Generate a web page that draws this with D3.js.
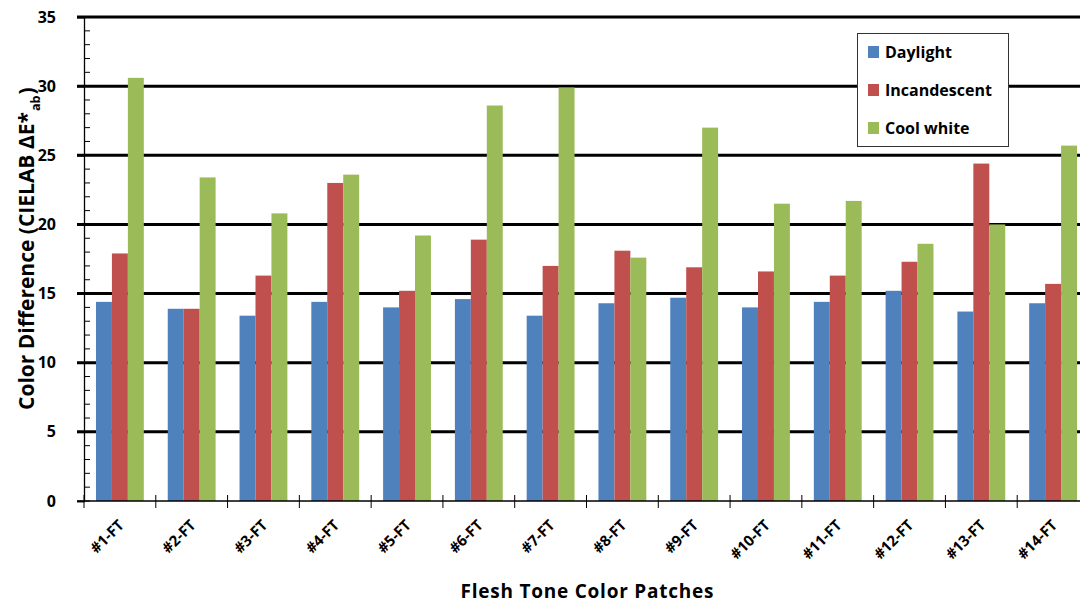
<!DOCTYPE html>
<html>
<head>
<meta charset="utf-8">
<script src="https://cdn.jsdelivr.net/npm/d3@7"></script>
<style>
  html, body { margin: 0; padding: 0; background: #fff; }
  svg { display: block; }
  text { font-family: "Open Sans", Lato, sans-serif; font-weight: bold; fill: #000; }
</style>
</head>
<body>
<svg id="chart" width="1080" height="605"></svg>
<script>
const categories = ["#1-FT","#2-FT","#3-FT","#4-FT","#5-FT","#6-FT","#7-FT","#8-FT","#9-FT","#10-FT","#11-FT","#12-FT","#13-FT","#14-FT"];
const seriesNames = ["Daylight","Incandescent","Cool white"];
const daylight     = [14.4, 13.9, 13.4, 14.4, 14.0, 14.6, 13.4, 14.3, 14.7, 14.0, 14.4, 15.2, 13.7, 14.3];
const incandescent = [17.9, 13.9, 16.3, 23.0, 15.2, 18.9, 17.0, 18.1, 16.9, 16.6, 16.3, 17.3, 24.4, 15.7];
const coolWhite    = [30.6, 23.4, 20.8, 23.6, 19.2, 28.6, 29.9, 17.6, 27.0, 21.5, 21.7, 18.6, 20.0, 25.7];
const seriesColors = ["#4F81BD","#C0504D","#9BBB59"];
const yTicks = [0, 5, 10, 15, 20, 25, 30, 35];
const yTitleMain = "Color Difference (CIELAB ΔE*";
const yTitleSub = "ab";
const yTitleEnd = ")";
const xTitle = "Flesh Tone Color Patches";

const series = [daylight, incandescent, coolWhite];
const svg = d3.select("#chart");
const mLeft = 84, mRight = 1089, mTop = 17, mBottom = 501;

const x = d3.scaleBand().domain(categories).range([mLeft, mRight]).paddingInner(0).paddingOuter(0);
const xs = d3.scaleBand().domain(seriesNames).range([0, x.bandwidth()]).paddingInner(0).paddingOuter(0.75);
const y = d3.scaleLinear().domain([0, 35]).range([mBottom, mTop]);

// minor ticks on y axis (inside)
const minor = d3.range(0, 35.01, 1);
svg.append("g").selectAll("line").data(minor).join("line")
  .attr("x1", mLeft).attr("x2", mLeft + 6)
  .attr("y1", d => y(d)).attr("y2", d => y(d))
  .attr("stroke", "#000").attr("stroke-width", 1);

// gridlines (major)
svg.append("g").selectAll("line").data(yTicks.filter(d => d > 0)).join("line")
  .attr("x1", mLeft - 7).attr("x2", 1080)
  .attr("y1", d => y(d)).attr("y2", d => y(d))
  .attr("stroke", "#000").attr("stroke-width", 3);

// bars
const groups = svg.append("g").selectAll("g").data(categories).join("g")
  .attr("transform", d => `translate(${x(d)},0)`);
groups.selectAll("rect").data((c, i) => series.map((s, k) => ({k, v: s[i]}))).join("rect")
  .attr("x", d => xs(seriesNames[d.k]))
  .attr("width", xs.bandwidth())
  .attr("y", d => y(d.v))
  .attr("height", d => mBottom - y(d.v))
  .attr("fill", d => seriesColors[d.k]);

// y axis
const yAxis = svg.append("g").attr("transform", `translate(${mLeft},0)`)
  .call(d3.axisLeft(y).tickValues(yTicks).tickSize(7).tickPadding(21));
yAxis.select(".domain").attr("stroke", "#000").attr("stroke-width", 1.3);
yAxis.selectAll(".tick line").attr("stroke", "#000").attr("stroke-width", 1.5);
yAxis.selectAll("text").attr("font-size", 16)
  .style("font-family", "'Open Sans', sans-serif").style("font-weight", "bold").attr("fill", "#000");

// x axis
svg.append("line").attr("x1", mLeft - 7).attr("x2", 1080).attr("y1", mBottom).attr("y2", mBottom)
  .attr("stroke", "#000").attr("stroke-width", 1.3);
const bounds = categories.map(c => x(c));
svg.append("g").selectAll("line").data(bounds).join("line")
  .attr("x1", d => d).attr("x2", d => d)
  .attr("y1", mBottom - 6).attr("y2", mBottom + 7)
  .attr("stroke", "#000").attr("stroke-width", 1);

// x tick labels: glyphs placed along a 45° diagonal, each glyph rotated -45°
const ux = Math.SQRT1_2, uy = -Math.SQRT1_2;
const labG = svg.append("g");
categories.forEach((c, i) => {
  const ex = x(c) + x.bandwidth() / 2 + 5, ey = mBottom + 25;
  const t = labG.append("text").attr("font-size", 15).attr("x", 0).attr("y", 0).text(c);
  const n = c.length;
  const adv = [0];
  for (let k = 1; k <= n; k++) adv.push(t.node().getSubStringLength(0, k));
  const L = adv[n];
  const sx = ex - L * ux, sy = ey - L * uy;
  const xsArr = [], ysArr = [], rs = [];
  for (let k = 0; k < n; k++) {
    xsArr.push((sx + adv[k] * ux).toFixed(2));
    ysArr.push((sy + adv[k] * uy).toFixed(2));
    rs.push(-45);
  }
  t.attr("x", xsArr.join(" ")).attr("y", ysArr.join(" ")).attr("rotate", rs.join(" "));
});

// y title (three pieces laid out along rotated baseline), scaled to span ~345px
const ytg = svg.append("g").attr("transform", "translate(34,410) rotate(-90)");
function layoutYTitle(fs) {
  ytg.selectAll("*").remove();
  const t1 = ytg.append("text").attr("x", 0).attr("y", 0).attr("font-size", fs).text(yTitleMain);
  const w1 = t1.node().getComputedTextLength();
  const t2 = ytg.append("text").attr("x", w1 + 1).attr("y", fs * 0.28).attr("font-size", fs * 0.6).text(yTitleSub);
  const w2 = t2.node().getComputedTextLength();
  const t3 = ytg.append("text").attr("x", w1 + w2 + 2).attr("y", 0).attr("font-size", fs).text(yTitleEnd);
  return w1 + w2 + 2 + t3.node().getComputedTextLength();
}
const w0 = layoutYTitle(18);
layoutYTitle(Math.min(21, 18 * 345 / w0));

// x title
svg.append("text").attr("x", 587).attr("y", 598).attr("text-anchor", "middle")
  .attr("font-size", 19).attr("textLength", 253).attr("lengthAdjust", "spacing").text(xTitle);

// legend
const lg = svg.append("g");
lg.append("rect").attr("x", 857.5).attr("y", 33.5).attr("width", 151).attr("height", 113)
  .attr("fill", "#fff").attr("stroke", "#333").attr("stroke-width", 1);
seriesNames.forEach((n, i) => {
  const cy = 52 + i * 38;
  lg.append("rect").attr("x", 868).attr("y", cy - 6).attr("width", 11).attr("height", 12).attr("fill", seriesColors[i]);
  lg.append("text").attr("x", 885).attr("y", cy).attr("dy", "0.35em").attr("font-size", 16).text(n);
});
</script>
</body>
</html>
